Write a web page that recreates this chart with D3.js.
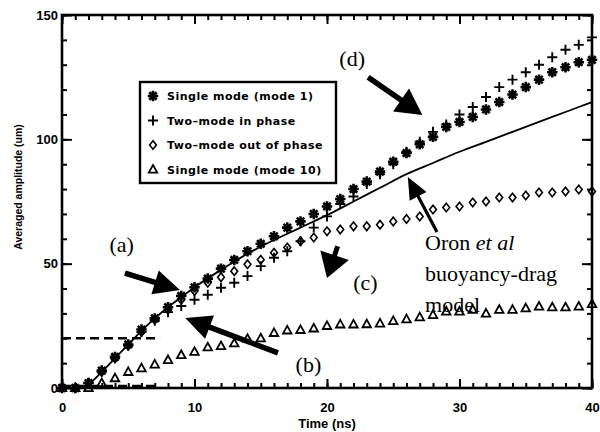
<!DOCTYPE html>
<html>
<head>
<meta charset="utf-8">
<script src="https://cdn.jsdelivr.net/npm/d3@7"></script>
<style>
body { margin: 0; background: #fff; }
svg { display: block; }
.tick text { font-family: "Liberation Sans", Arial, sans-serif; font-weight: bold; font-size: 13px; }
</style>
</head>
<body>
<div id="chart"></div>
<script>
// time samples (ns)
var times = [0, 1, 2, 3, 4, 5, 6, 7, 8, 9, 10, 11, 12, 13, 14, 15, 16, 17, 18, 19, 20,
             21, 22, 23, 24, 25, 26, 27, 28, 29, 30, 31, 32, 33, 34, 35, 36, 37, 38, 39, 40];

// averaged amplitude (um)
var single_mode1 = [0, 0, 2, 7, 12.5, 17.5, 23.5, 28, 32.5, 37, 40.5, 44, 48, 51.5, 55, 58, 61, 64.5, 67, 70, 73,
                    76, 80, 83, 87, 91, 94.5, 98, 101, 105, 107, 109, 112, 115, 118, 121, 124, 127, 129, 131, 132];
var two_in_phase = [0, 0, 2, 6.5, 12, 17, 22.5, 27, 30.5, 33, 35.5, 37.5, 40.3, 42.3, 45, 49, 52.4, 55, 59, 64.5, 69,
                    74, 77, 82, 86, 90, 95, 99, 103, 106, 110, 113, 117, 121, 124, 127, 130, 133, 136, 138, 141];
var two_out_phase = [0, 0, 2, 6.5, 12, 17, 22.5, 27.5, 31.5, 35.5, 39, 42.3, 44.5, 47, 49.8, 51.6, 54.4, 56.5, 59, 60.5, 63,
                     63.7, 65, 65, 65.7, 67, 68, 69, 71.8, 72.6, 73, 74.6, 75, 76.6, 76.6, 77.4, 78.6, 78.6, 79, 79.8, 79];
var single_mode10 = [0, 0, 0, 2, 4, 6.5, 8, 9.5, 11.3, 13.3, 14.6, 16.4, 16.9, 18, 19.8, 20, 22.2, 23.2, 23.4, 24, 25,
                     25.6, 25.6, 25.7, 26, 27, 27.7, 28.5, 29.4, 30.8, 30.8, 31.5, 30, 31.5, 31.5, 32.1, 32.8, 32.5, 32.5, 32.8, 33.8];

// Oron et al buoyancy-drag model curve
var model_t = [0, 1.5, 2, 3, 4, 5, 6, 7, 8, 9, 10, 12, 14, 16, 18, 20, 22, 24, 26, 28, 30, 32, 34, 36, 38, 40];
var model_v = [0, 0, 1.5, 6.5, 12, 17.5, 23, 28, 32.5, 36.5, 40.5, 47.5, 54, 59.5, 64.5, 69.5, 75, 80.5, 86, 90.5, 95, 99, 103, 107, 111, 115];

var legend_labels = ['Single mode (mode 1)', 'Two\u2013mode in phase', 'Two\u2013mode out of phase', 'Single mode (mode 10)'];
var x_ticks = [0, 10, 20, 30, 40];
var y_ticks = [0, 50, 100, 150];

// dashed guide lines: level (um) and end time (ns)
var guide_levels = [0, 20];
var guide_end = 7.4;

// arrows: [tail t, tail v, tip t, tip v]
var arrows = [
    [4.75, 46.2, 8.9, 39.4],
    [16.3, 14.1, 9.3, 28.2],
    [20.8, 57.0, 20.0, 44.2],
    [23.1, 125.0, 27.2, 109.8],
    [28.3, 62.7, 26.1, 84.9]
];
var notes = [
    ['(a)', 4.5, 54.7],
    ['(b)', 18.6, 6.4],
    ['(c)', 22.9, 39.4],
    ['(d)', 21.9, 129.5]
];

// Chart params
var chart_width = 600, chart_height = 432;
var pad_left = 62, pad_right = 592, pad_top = 15, pad_bottom = 388;

var svg = d3.select('#chart')
    .append('svg')
    .attr('width', chart_width)
    .attr('height', chart_height);

var x_scale = d3.scaleLinear().domain([0, 40]).range([pad_left, pad_right]);
var y_scale = d3.scaleLinear().domain([0, 150]).range([pad_bottom, pad_top]);

// symbols
var sym_asterisk = {
    draw: function(ctx, size) {
        var r = Math.sqrt(size) / 2;
        for (var k = 0; k < 4; k++) {
            var a = k * Math.PI / 4;
            ctx.moveTo(r * Math.cos(a), r * Math.sin(a));
            ctx.lineTo(-r * Math.cos(a), -r * Math.sin(a));
        }
    }
};
var sym_plus = {
    draw: function(ctx, size) {
        var r = Math.sqrt(size) / 2;
        ctx.moveTo(-r, 0); ctx.lineTo(r, 0);
        ctx.moveTo(0, -r); ctx.lineTo(0, r);
    }
};
var sym_diamond = {
    draw: function(ctx, size) {
        var r = Math.sqrt(size) / 2;
        ctx.moveTo(0, -r); ctx.lineTo(r * 0.8, 0); ctx.lineTo(0, r); ctx.lineTo(-r * 0.8, 0); ctx.closePath();
    }
};
var sym_triangle = {
    draw: function(ctx, size) {
        var r = Math.sqrt(size) / 2;
        ctx.moveTo(0, -r * 1.05); ctx.lineTo(r, r * 0.75); ctx.lineTo(-r, r * 0.75); ctx.closePath();
    }
};

var series = [
    {values: single_mode10, type: sym_triangle, size: 72, sw: 1.8},
    {values: two_out_phase, type: sym_diamond, size: 72, sw: 1.6},
    {values: two_in_phase, type: sym_plus, size: 100, sw: 1.9},
    {values: single_mode1, type: sym_asterisk, size: 110, sw: 2.6}
];
var legend_order = [3, 2, 1, 0];

// frame
svg.append('rect')
    .attr('x', pad_left).attr('y', pad_top)
    .attr('width', pad_right - pad_left).attr('height', pad_bottom - pad_top)
    .attr('fill', 'none').attr('stroke', '#000').attr('stroke-width', 2.6);

// axes: major + minor ticks on all four sides
function draw_axis(axis, transform, labels) {
    var g = svg.append('g').attr('transform', transform).call(axis);
    g.select('.domain').remove();
    g.selectAll('line').attr('stroke', '#000').attr('stroke-width', 2);
    if (!labels) g.selectAll('text').remove();
    return g;
}
draw_axis(d3.axisBottom(x_scale).tickValues(x_ticks).tickSizeInner(-9).tickSizeOuter(0).tickPadding(15).tickFormat(d3.format('d')),
    'translate(0,' + pad_bottom + ')', true);
draw_axis(d3.axisBottom(x_scale).ticks(40).tickSizeInner(-5).tickSizeOuter(0), 'translate(0,' + pad_bottom + ')', false);
draw_axis(d3.axisTop(x_scale).tickValues(x_ticks).tickSizeInner(-9).tickSizeOuter(0), 'translate(0,' + pad_top + ')', false);
draw_axis(d3.axisTop(x_scale).ticks(40).tickSizeInner(-5).tickSizeOuter(0), 'translate(0,' + pad_top + ')', false);
draw_axis(d3.axisLeft(y_scale).tickValues(y_ticks).tickSizeInner(-10).tickSizeOuter(0).tickPadding(4).tickFormat(d3.format('d')),
    'translate(' + pad_left + ',0)', true);
draw_axis(d3.axisLeft(y_scale).ticks(15).tickSizeInner(-5).tickSizeOuter(0), 'translate(' + pad_left + ',0)', false);
draw_axis(d3.axisRight(y_scale).tickValues(y_ticks).tickSizeInner(-10).tickSizeOuter(0), 'translate(' + pad_right + ',0)', false);
draw_axis(d3.axisRight(y_scale).ticks(15).tickSizeInner(-5).tickSizeOuter(0), 'translate(' + pad_right + ',0)', false);

// axis titles
svg.append('text')
    .attr('x', x_scale(20)).attr('y', 428)
    .attr('text-anchor', 'middle')
    .style('font-family', '"Liberation Sans", Arial, sans-serif').style('font-weight', 'bold').style('font-size', '13px')
    .text('Time (ns)');
svg.append('text')
    .attr('transform', 'translate(22,187) rotate(-90)')
    .attr('text-anchor', 'middle')
    .style('font-family', '"Liberation Sans", Arial, sans-serif').style('font-weight', 'bold').style('font-size', '10.5px')
    .text('Averaged amplitude (um)');

// dashed guides
svg.selectAll('line.guide')
    .data(guide_levels)
    .enter()
    .append('line')
    .attr('class', 'guide')
    .attr('x1', x_scale(0)).attr('x2', x_scale(guide_end))
    .attr('y1', function(d) { return y_scale(d) - (d === 0 ? 2 : 0); })
    .attr('y2', function(d) { return y_scale(d) - (d === 0 ? 2 : 0); })
    .attr('stroke', '#000').attr('stroke-width', 2.4).attr('stroke-dasharray', '9,5');

// model line
var line = d3.line()
    .x(function(d) { return x_scale(d[0]); })
    .y(function(d) { return y_scale(d[1]); })
    .curve(d3.curveMonotoneX);
svg.append('path')
    .datum(d3.zip(model_t, model_v))
    .attr('d', line)
    .attr('fill', 'none').attr('stroke', '#000').attr('stroke-width', 1.8);

// data points
series.forEach(function(s) {
    svg.append('g')
        .selectAll('path')
        .data(d3.zip(times, s.values))
        .enter()
        .append('path')
        .attr('transform', function(d) { return 'translate(' + x_scale(d[0]) + ',' + y_scale(d[1]) + ')'; })
        .attr('d', d3.symbol().type(s.type).size(s.size))
        .attr('fill', 'none').attr('stroke', '#000').attr('stroke-width', s.sw);
});

// legend
var legend = svg.append('g').attr('transform', 'translate(140,82)');
legend.append('rect')
    .attr('width', 196).attr('height', 101)
    .attr('fill', '#fff').attr('stroke', '#000').attr('stroke-width', 2.4);
legend_order.forEach(function(si, i) {
    var s = series[si];
    var cy = 14 + i * 24.5;
    legend.append('path')
        .attr('transform', 'translate(13,' + cy + ')')
        .attr('d', d3.symbol().type(s.type).size(s.size))
        .attr('fill', 'none').attr('stroke', '#000').attr('stroke-width', s.sw);
    legend.append('text')
        .attr('x', 27).attr('y', cy + 4)
        .style('font-family', '"DejaVu Sans", sans-serif').style('font-weight', 'bold').style('font-size', '11px')
        .style('letter-spacing', '0.5px')
        .text(legend_labels[i]);
});

// arrows
function arrow_path(a, head_len, head_w, shaft_w) {
    var x0 = x_scale(a[0]), y0 = y_scale(a[1]), x1 = x_scale(a[2]), y1 = y_scale(a[3]);
    var dx = x1 - x0, dy = y1 - y0, len = Math.sqrt(dx * dx + dy * dy);
    var ux = dx / len, uy = dy / len, px = -uy, py = ux;
    var bx = x1 - ux * head_len, by = y1 - uy * head_len;
    var pts = [
        [x0 + px * shaft_w / 2, y0 + py * shaft_w / 2],
        [bx + px * shaft_w / 2, by + py * shaft_w / 2],
        [bx + px * head_w / 2, by + py * head_w / 2],
        [x1, y1],
        [bx - px * head_w / 2, by - py * head_w / 2],
        [bx - px * shaft_w / 2, by - py * shaft_w / 2],
        [x0 - px * shaft_w / 2, y0 - py * shaft_w / 2]
    ];
    return d3.line()(pts) + 'Z';
}
var arrow_sizes = [[26, 25, 5.5], [26, 25, 5.5], [24, 30, 5], [26, 28, 5.5], [22, 19, 3.2]];
svg.selectAll('path.arrow')
    .data(arrows)
    .enter()
    .append('path')
    .attr('class', 'arrow')
    .attr('d', function(d, i) { return arrow_path(d, arrow_sizes[i][0], arrow_sizes[i][1], arrow_sizes[i][2]); })
    .attr('fill', '#000');

// annotation labels
svg.selectAll('text.note')
    .data(notes)
    .enter()
    .append('text')
    .attr('class', 'note')
    .attr('x', function(d) { return x_scale(d[1]); })
    .attr('y', function(d) { return y_scale(d[2]); })
    .attr('text-anchor', 'middle')
    .style('font-family', '"Liberation Serif", serif').style('font-size', '22px')
    .text(function(d) { return d[0]; });

var oron = svg.append('text')
    .attr('x', x_scale(27.4))
    .style('font-family', '"Liberation Serif", serif').style('font-size', '22px');
oron.append('tspan').attr('x', x_scale(27.4)).attr('y', y_scale(55.5)).text('Oron ');
oron.append('tspan').style('font-style', 'italic').text('et al');
oron.append('tspan').attr('x', x_scale(27.4)).attr('y', y_scale(43)).text('buoyancy-drag');
oron.append('tspan').attr('x', x_scale(27.4)).attr('y', y_scale(30.6)).text('model');
</script>
</body>
</html>
